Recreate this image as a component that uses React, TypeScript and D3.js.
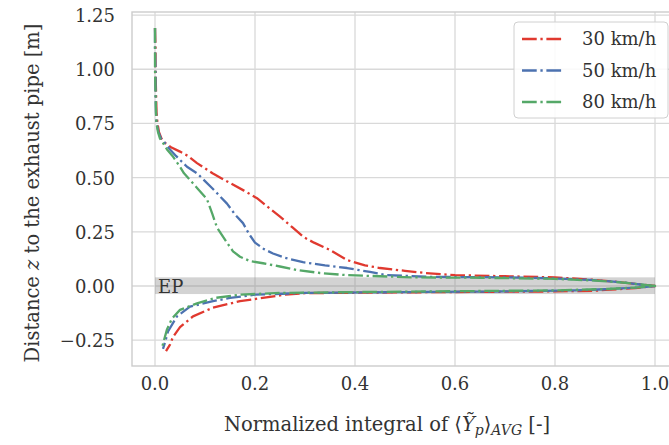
import React from "react";
import * as d3 from "d3";

// ---------- data ----------
const seriesNames = ["30 km/h", "50 km/h", "80 km/h"];
const seriesColors = ["#e0392f", "#4c72b0", "#55a868"];

// 30 km/h
const z30 = [1.19, 1.1, 1.0, 0.9, 0.8, 0.75, 0.71, 0.68, 0.66, 0.64, 0.62, 0.6, 0.567, 0.52, 0.475, 0.44, 0.405, 0.36, 0.32, 0.27, 0.226, 0.2, 0.166, 0.12, 0.095, 0.083, 0.07, 0.06, 0.05, 0.045, 0.04, 0.03, 0.02, 0.008, 0.0,
  -0.01, -0.018, -0.022, -0.025, -0.027, -0.03, -0.033, -0.04, -0.05, -0.07, -0.1, -0.14, -0.19, -0.235, -0.27, -0.3];
const x30 = [0.0, 0.001, 0.001, 0.002, 0.003, 0.005, 0.008, 0.013, 0.02, 0.032, 0.05, 0.066, 0.084, 0.115, 0.15, 0.178, 0.204, 0.228, 0.25, 0.275, 0.297, 0.318, 0.35, 0.384, 0.42, 0.45, 0.5, 0.54, 0.6, 0.7, 0.8, 0.87, 0.92, 0.97, 1.0,
  0.96, 0.9, 0.88, 0.8, 0.65, 0.45, 0.3, 0.26, 0.23, 0.17, 0.116, 0.076, 0.05, 0.036, 0.03, 0.022];

// 50 km/h
const z50 = [1.19, 1.1, 1.0, 0.9, 0.8, 0.75, 0.71, 0.68, 0.66, 0.63, 0.6, 0.55, 0.52, 0.45, 0.38, 0.33, 0.29, 0.24, 0.2, 0.17, 0.15, 0.13, 0.11, 0.095, 0.083, 0.065, 0.05, 0.042, 0.04, 0.035, 0.028, 0.018, 0.007, 0.0,
  -0.008, -0.015, -0.02, -0.025, -0.028, -0.032, -0.04, -0.055, -0.07, -0.095, -0.14, -0.21, -0.26, -0.29];
const x50 = [0.0, 0.0, 0.001, 0.001, 0.002, 0.003, 0.007, 0.012, 0.02, 0.03, 0.042, 0.064, 0.084, 0.115, 0.144, 0.16, 0.176, 0.188, 0.2, 0.218, 0.236, 0.26, 0.296, 0.34, 0.384, 0.43, 0.464, 0.55, 0.7, 0.8, 0.87, 0.93, 0.97, 1.0,
  0.96, 0.9, 0.84, 0.7, 0.5, 0.3, 0.2, 0.15, 0.116, 0.07, 0.044, 0.026, 0.02, 0.016];

// 80 km/h
const z80 = [1.19, 1.1, 1.0, 0.9, 0.8, 0.75, 0.71, 0.68, 0.66, 0.63, 0.6, 0.55, 0.52, 0.45, 0.4, 0.33, 0.27, 0.2, 0.16, 0.135, 0.115, 0.105, 0.09, 0.074, 0.06, 0.05, 0.04, 0.038, 0.033, 0.025, 0.015, 0.005, 0.0,
  -0.007, -0.014, -0.02, -0.024, -0.028, -0.032, -0.04, -0.055, -0.08, -0.11, -0.15, -0.2, -0.25, -0.285];
const x80 = [0.0, 0.0, 0.0, 0.001, 0.002, 0.003, 0.006, 0.01, 0.016, 0.024, 0.035, 0.05, 0.058, 0.085, 0.104, 0.115, 0.124, 0.144, 0.156, 0.17, 0.19, 0.216, 0.25, 0.284, 0.33, 0.384, 0.516, 0.65, 0.8, 0.88, 0.94, 0.98, 1.0,
  0.96, 0.9, 0.8, 0.6, 0.4, 0.25, 0.17, 0.12, 0.084, 0.05, 0.034, 0.024, 0.018, 0.014];

const zSeries = [z30, z50, z80];
const xSeries = [x30, x50, x80];

const xTicks = [0.0, 0.2, 0.4, 0.6, 0.8, 1.0];
const yTicks = [-0.25, 0.0, 0.25, 0.5, 0.75, 1.0, 1.25];
const epBand = [-0.037, 0.04];

// ---------- layout ----------
const W = 669;
const H = 445;
const FONT = "'DejaVu Serif', serif";
const TXT = "#333333";

export default function App() {
  const x = d3.scaleLinear().domain([-0.046, 1.05]).range([132, 680]);
  const y = d3.scaleLinear().domain([-0.369, 1.264]).range([366, 12]);

  const line = d3
    .line<[number, number]>()
    .x((d) => x(d[0]))
    .y((d) => y(d[1]));

  const lw = 2.3;
  const dash = [6.4 * lw, 1.6 * lw, 1.0 * lw, 1.6 * lw].map((v) => v.toFixed(2)).join(",");

  const fmtY = (v: number) => (v < 0 ? "\u2212" : "") + d3.format(".2f")(Math.abs(v));
  const fmtX = d3.format(".1f");

  return (
    <svg
      width={W}
      height={H}
      style={{ position: "absolute", left: 0, top: 0, background: "#fff" }}
      fontFamily={FONT}
    >
      {/* grid */}
      {xTicks.map((t) => (
        <line key={"gx" + t} x1={x(t)} x2={x(t)} y1={y.range()[1]} y2={y.range()[0]} stroke="#d9d9d9" strokeWidth={1.3} />
      ))}
      {yTicks.map((t) => (
        <line key={"gy" + t} x1={x.range()[0]} x2={x.range()[1]} y1={y(t)} y2={y(t)} stroke="#d9d9d9" strokeWidth={1.3} />
      ))}

      {/* EP band */}
      <rect
        x={x(0)}
        y={y(epBand[1])}
        width={x(1) - x(0)}
        height={y(epBand[0]) - y(epBand[1])}
        fill="#808080"
        fillOpacity={0.35}
      />
      <text x={x(0) + 3} y={y(0) + 7} fontSize={18} fill={TXT}>
        EP
      </text>

      {/* frame */}
      <rect
        x={x.range()[0]}
        y={y.range()[1]}
        width={x.range()[1] - x.range()[0]}
        height={y.range()[0] - y.range()[1]}
        fill="none"
        stroke="#cccccc"
        strokeWidth={1.4}
      />

      {/* series */}
      {zSeries.map((zs, i) => {
        const pts: [number, number][] = zs.map((z, j) => [xSeries[i][j], z]);
        return (
          <path
            key={"s" + i}
            d={line(pts) || ""}
            fill="none"
            stroke={seriesColors[i]}
            strokeWidth={lw}
            strokeDasharray={dash}
            strokeLinejoin="round"
          />
        );
      })}

      {/* tick labels */}
      {xTicks.map((t) => (
        <text key={"tx" + t} x={x(t)} y={390} textAnchor="middle" fontSize={18} fill={TXT}>
          {fmtX(t)}
        </text>
      ))}
      {yTicks.map((t) => (
        <text key={"ty" + t} x={115} y={y(t) + 7} textAnchor="end" fontSize={18} fill={TXT}>
          {fmtY(t)}
        </text>
      ))}

      {/* axis labels */}
      <text x={387} y={431} textAnchor="middle" fontSize={19.5} fill={TXT}>
        <tspan>Normalized integral of {"\u27E8"}</tspan>
        <tspan fontStyle="italic">{"Y\u0303"}</tspan>
        <tspan fontStyle="italic" fontSize={14} dy={4}>p</tspan>
        <tspan dy={-4}>{"\u27E9"}</tspan>
        <tspan fontStyle="italic" fontSize={14} dy={4}>AVG</tspan>
        <tspan dy={-4}> [-]</tspan>
      </text>
      <text
        transform={`translate(39,${(y.range()[0] + y.range()[1]) / 2 + 4}) rotate(-90)`}
        textAnchor="middle"
        fontSize={19.5}
        fill={TXT}
      >
        <tspan>Distance </tspan>
        <tspan fontStyle="italic">z</tspan>
        <tspan> to the exhaust pipe [m]</tspan>
      </text>

      {/* legend */}
      <rect x={514} y={22} width={154} height={96} rx={4} fill="#fff" fillOpacity={0.85} stroke="#d0d0d0" strokeWidth={1} />
      {seriesNames.map((n, i) => {
        const ly = 39 + i * 31.5;
        return (
          <g key={"lg" + i}>
            <line x1={522} x2={564} y1={ly} y2={ly} stroke={seriesColors[i]} strokeWidth={lw} strokeDasharray={dash} />
            <text x={582} y={ly + 6} fontSize={18} fill={TXT}>
              {n}
            </text>
          </g>
        );
      })}
    </svg>
  );
}
